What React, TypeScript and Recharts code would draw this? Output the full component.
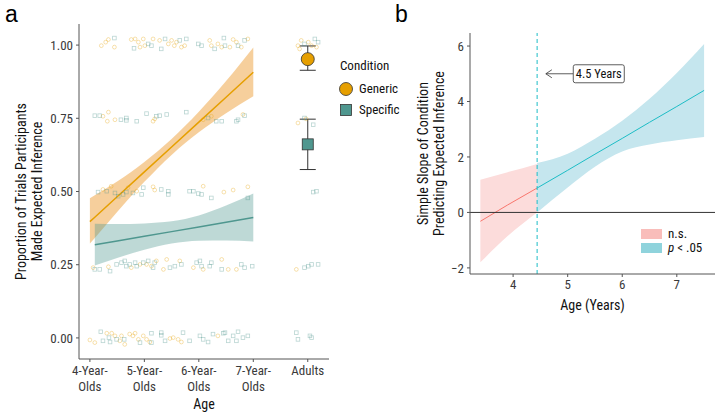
import React from "react";
import {
  ComposedChart,
  Area,
  Line,
  Scatter,
  XAxis,
  YAxis,
  ErrorBar,
  Legend,
  ReferenceLine,
  ReferenceDot,
  Label,
} from "recharts";

const FONT =
  "'Liberation Sans Narrow', 'Roboto Condensed', 'DejaVu Sans Condensed', Roboto, sans-serif";
const ORANGE = "#E69F00";
const TEAL = "#4F978F";
const NS_RED = "#F8766D";
const SIG_CYAN = "#1DBDC6";
const TICK_COLOR = "#3a3a3a";

// ---------- panel a ----------
const ageTicks = [1, 2, 3, 4, 5];
const ageLabels = ["4-Year-\nOlds", "5-Year-\nOlds", "6-Year-\nOlds", "7-Year-\nOlds", "Adults"];
const proportionTicks = [0, 0.25, 0.5, 0.75, 1];

// fitted lines + ribbons (x in age-category units)
const fitX = [1, 1.09, 1.5, 2, 2.5, 3, 3.5, 4];
const genericFit = [0.397, 0.412, 0.482, 0.567, 0.652, 0.737, 0.822, 0.907];
const genericLow = [0.322, 0.341, 0.43, 0.533, 0.625, 0.702, 0.767, 0.825];
const genericHigh = [0.477, 0.487, 0.534, 0.601, 0.679, 0.772, 0.877, 0.992];
const specificFit = [null, 0.318, 0.331, 0.347, 0.363, 0.379, 0.395, 0.411];
const specificLow = [null, 0.247, 0.273, 0.301, 0.322, 0.332, 0.333, 0.329];
const specificHigh = [null, 0.39, 0.389, 0.391, 0.398, 0.418, 0.452, 0.493];

// jittered raw responses [x, proportion]
const genericPoints: [number, number][] = [
  [1.21, 0.998], [1.29, 1.01], [1.34, 1.019], [1.45, 0.993], [1.76, 1.019], [1.83, 1.021],
  [1.89, 1.01], [1.92, 0.993], [1.98, 1.021], [2.01, 0.998], [2.16, 1.021], [2.28, 1.016],
  [2.44, 1.004], [2.5, 1.016], [2.55, 0.998], [2.59, 1.01], [2.68, 0.993], [2.74, 0.998],
  [3.2, 1.016], [3.23, 0.998], [3.35, 1.004], [3.42, 0.993], [3.57, 0.993], [3.63, 1.019],
  [3.69, 1.01], [3.78, 0.993], [3.9, 1.021], [4.82, 0.998], [4.88, 1.016], [5.01, 1.01],
  [5.07, 0.998], [5.16, 0.993], [4.85, 0.987],
  [1.24, 0.757], [1.34, 0.771], [1.32, 0.74], [1.46, 0.745], [2.16, 0.74], [2.19, 0.748],
  [3.08, 0.745], [3.23, 0.757], [3.81, 0.763], [4.82, 0.734], [4.97, 0.748],
  [1.24, 0.507], [1.39, 0.518], [1.7, 0.513], [1.86, 0.501], [2.16, 0.516], [2.19, 0.505],
  [3.08, 0.518], [3.46, 0.498], [3.63, 0.505], [3.9, 0.516],
  [1.06, 0.24], [1.34, 0.243], [1.76, 0.24], [1.92, 0.251], [2.04, 0.251], [2.13, 0.245],
  [2.22, 0.263], [2.35, 0.234], [2.41, 0.268], [2.65, 0.263], [2.9, 0.24], [3.08, 0.234],
  [3.42, 0.268], [3.54, 0.234], [3.69, 0.234], [4.79, 0.234],
  [1.0, -0.007], [1.09, -0.016], [1.31, 0.016], [1.4, 0.016], [1.46, 0.007], [1.55, -0.01],
  [1.58, 0.007], [1.64, -0.022], [1.73, 0.013], [1.79, 0.007], [1.83, 0.016], [1.89, -0.005],
  [1.98, 0.007], [2.04, -0.005], [2.1, -0.014], [2.47, -0.002], [2.53, 0.001], [2.62, -0.005],
  [2.68, -0.014], [3.35, 0.007],
];
const specificPoints: [number, number][] = [
  [1.45, 1.024], [1.81, 0.989], [2.07, 1.004], [2.13, 0.998], [2.31, 0.987], [2.38, 1.021],
  [2.65, 1.016], [2.77, 1.021], [2.99, 1.004], [3.05, 0.998], [3.29, 0.987], [3.46, 1.024],
  [3.48, 0.998], [3.72, 0.998], [3.84, 1.016], [4.94, 1.004], [5.13, 1.021], [5.19, 1.01],
  [1.09, 0.759], [1.18, 0.759], [1.57, 0.745], [1.67, 0.751], [1.67, 0.743], [1.86, 0.74],
  [2.04, 0.766], [2.22, 0.757], [2.28, 0.759], [2.41, 0.763], [2.77, 0.771], [3.17, 0.751],
  [3.32, 0.74], [3.42, 0.74], [3.69, 0.74], [3.72, 0.745], [3.84, 0.759], [4.94, 0.751],
  [5.1, 0.728],
  [1.15, 0.498], [1.31, 0.501], [1.46, 0.495], [1.52, 0.484], [1.61, 0.49], [1.67, 0.498],
  [1.79, 0.495], [1.95, 0.49], [1.98, 0.513], [2.31, 0.507], [2.44, 0.501], [2.44, 0.49],
  [2.83, 0.501], [2.9, 0.501], [2.99, 0.493], [3.05, 0.49], [3.23, 0.478], [3.9, 0.478],
  [5.1, 0.498], [5.16, 0.501],
  [1.09, 0.234], [1.18, 0.234], [1.37, 0.228], [1.49, 0.251], [1.58, 0.257], [1.64, 0.263],
  [1.67, 0.245], [1.73, 0.251], [1.83, 0.257], [1.86, 0.245], [1.98, 0.257], [2.07, 0.263],
  [2.16, 0.24], [2.19, 0.257], [2.47, 0.24], [2.56, 0.245], [2.68, 0.251], [2.96, 0.257],
  [3.02, 0.263], [3.05, 0.245], [3.2, 0.245], [3.23, 0.257], [3.42, 0.234], [3.78, 0.251],
  [3.84, 0.24], [3.98, 0.245], [4.94, 0.24], [5.01, 0.245], [5.07, 0.251], [5.19, 0.251],
  [1.2, 0.021], [1.24, -0.01], [1.35, 0.001], [1.37, -0.014], [1.49, -0.005], [1.63, -0.005],
  [1.92, -0.016], [2.13, 0.016], [2.13, -0.016], [2.31, 0.018], [2.31, 0.009], [2.38, -0.01],
  [2.71, 0.018], [2.83, -0.01], [3.02, 0.007], [3.08, -0.005], [3.17, -0.014], [3.26, 0.013],
  [3.45, 0.016], [3.48, 0.018], [3.54, -0.01], [3.63, 0.007], [3.69, -0.01], [3.72, 0.021],
  [3.81, 0.001], [3.9, 0.007], [4.79, 0.018], [4.82, -0.005], [5.04, 0.007], [5.07, 0.001],
];

// adult means with error bars
const adultX = 5;
const adultMean = [0.952, 0.661];
const adultLower = [0.914, 0.575];
const adultUpper = [0.997, 0.747];

// ---------- panel b ----------
const slopeTicksX = [4, 5, 6, 7];
const slopeTicksY = [-2, 0, 2, 4, 6];
const slopeX = [3.4, 3.9, 4.44, 5, 5.5, 6, 6.5, 7, 7.5];
const nsFit = [-0.32, 0.27, 0.88, null, null, null, null, null, null];
const nsLow = [-1.8, -0.85, 0.0, null, null, null, null, null, null];
const nsHigh = [1.18, 1.45, 1.75, null, null, null, null, null, null];
const sigFit = [null, null, 0.88, 1.52, 2.1, 2.67, 3.25, 3.82, 4.4];
const sigLow = [null, null, 0.0, 0.9, 1.65, 2.2, 2.45, 2.6, 2.72];
const sigHigh = [null, null, 1.78, 2.12, 2.66, 3.31, 4.1, 5.03, 6.07];
const jnPoint = 4.44;

const fitRows = fitX.map((x, i) => ({
  x,
  generic: genericFit[i],
  genericBand: [genericLow[i], genericHigh[i]],
  specific: specificFit[i],
  specificBand: specificFit[i] == null ? null : [specificLow[i], specificHigh[i]],
}));
const genericJitter = genericPoints.map(([x, y]) => ({ x, y }));
const specificJitter = specificPoints.map(([x, y]) => ({ x, y }));
const genericAdult = [
  { x: adultX, y: adultMean[0], err: [adultMean[0] - adultLower[0], adultUpper[0] - adultMean[0]] },
];
const specificAdult = [
  { x: adultX, y: adultMean[1], err: [adultMean[1] - adultLower[1], adultUpper[1] - adultMean[1]] },
];
const slopeRows = slopeX.map((x, i) => ({
  x,
  ns: nsFit[i],
  nsBand: nsFit[i] == null ? null : [nsLow[i], nsHigh[i]],
  sig: sigFit[i],
  sigBand: sigFit[i] == null ? null : [sigLow[i], sigHigh[i]],
}));

const AgeTick = ({ x, y, payload }: any) => {
  const idx = ageTicks.indexOf(payload.value);
  const lines = (ageLabels[idx] || "").split("\n");
  return (
    <g>
      {lines.map((l, i) => (
        <text key={i} x={x} y={y + 11 + i * 16} textAnchor="middle" fill={TICK_COLOR} fontSize={13} fontFamily={FONT}>
          {l}
        </text>
      ))}
    </g>
  );
};

const twoLineYTitle = (lines: string[], dx: number[]) => (props: any) => {
  const vb = props.viewBox || {};
  const cy = vb.y + vb.height / 2;
  return (
    <g>
      {lines.map((l, i) => {
        const cx = vb.x + dx[i];
        return (
          <text key={i} x={cx} y={cy} transform={`rotate(-90 ${cx} ${cy})`} textAnchor="middle" dominantBaseline="central" fill="#111" fontSize={14} fontFamily={FONT}>
            {l}
          </text>
        );
      })}
    </g>
  );
};

const JitterCircle = (p: any) => (
  <circle cx={p.cx} cy={p.cy} r={1.9} fill="none" stroke={ORANGE} strokeOpacity={0.4} strokeWidth={0.8} />
);
const JitterSquare = (p: any) => (
  <rect x={p.cx - 1.8} y={p.cy - 1.8} width={3.6} height={3.6} fill="none" stroke={TEAL} strokeOpacity={0.4} strokeWidth={0.8} />
);
const MeanCircle = (p: any) => (
  <circle cx={p.cx} cy={p.cy} r={6.5} fill={ORANGE} stroke="#333" strokeWidth={0.8} />
);
const MeanSquare = (p: any) => (
  <rect x={p.cx - 5.5} y={p.cy - 5.5} width={11} height={11} fill={TEAL} stroke="#333" strokeWidth={0.8} />
);

const ConditionLegend = () => (
  <div style={{ fontFamily: FONT, fontSize: 13, color: "#111", lineHeight: "14px" }}>
    <div style={{ marginBottom: 5, marginLeft: 2 }}>Condition</div>
    <div style={{ display: "flex", alignItems: "center", height: 21 }}>
      <svg width={16} height={16}>
        <circle cx={8} cy={8} r={6.5} fill={ORANGE} stroke="#333" strokeWidth={0.8} />
      </svg>
      <span style={{ marginLeft: 5 }}>Generic</span>
    </div>
    <div style={{ display: "flex", alignItems: "center", height: 21 }}>
      <svg width={16} height={16}>
        <rect x={2.5} y={2.5} width={11} height={11} fill={TEAL} stroke="#333" strokeWidth={0.8} />
      </svg>
      <span style={{ marginLeft: 5 }}>Specific</span>
    </div>
  </div>
);

const SignificanceLegend = () => (
  <div style={{ fontFamily: FONT, fontSize: 13, color: "#111", lineHeight: "14px" }}>
    <div style={{ display: "flex", alignItems: "center", height: 14 }}>
      <span style={{ width: 21, height: 10, background: "#F9BDBA", display: "inline-block" }} />
      <span style={{ marginLeft: 6 }}>n.s.</span>
    </div>
    <div style={{ display: "flex", alignItems: "center", height: 14 }}>
      <span style={{ width: 21, height: 10, background: "#8FD3DC", display: "inline-block" }} />
      <span style={{ marginLeft: 6 }}>
        <i>p</i> &lt; .05
      </span>
    </div>
  </div>
);

const AnnotationBox = (p: any) => (
  <g>
    <rect x={p.cx - 25.5} y={p.cy - 9} width={51} height={18} rx={2} fill="#fff" stroke="#333" strokeWidth={0.8} />
    <text x={p.cx} y={p.cy} textAnchor="middle" dominantBaseline="central" fontSize={12.5} fontFamily={FONT} fill="#111">
      4.5 Years
    </text>
  </g>
);

const AnnotationArrow = (p: any) => (
  <g>
    <line x1={p.x1} y1={p.y1} x2={p.x2} y2={p.y2} stroke="#333" strokeWidth={0.8} />
    <polyline points={`${p.x2 + 6},${p.y2 - 4} ${p.x2},${p.y2} ${p.x2 + 6},${p.y2 + 4}`} fill="none" stroke="#333" strokeWidth={0.8} />
  </g>
);

const tickStyle = { fill: TICK_COLOR, fontSize: 13, fontFamily: FONT };
const panelLetter = { position: "absolute" as const, top: 1, fontSize: 23, lineHeight: "normal", fontFamily: "'Liberation Sans', Arial, sans-serif" };

export default function App() {
  return (
    <div style={{ position: "absolute", left: 0, top: 0, width: 717, height: 413, background: "#fff", overflow: "hidden" }}>
      <div style={{ ...panelLetter, left: 5 }}>a</div>
      <div style={{ ...panelLetter, left: 395 }}>b</div>

      <div style={{ position: "absolute", left: 0, top: 0 }}>
        <ComposedChart width={400} height={413} data={fitRows} margin={{ top: 24, right: 71, bottom: 4, left: 19 }}>
          <XAxis
            type="number"
            dataKey="x"
            domain={[0.8, 5.39]}
            ticks={ageTicks}
            allowDataOverflow
            height={50}
            tickSize={3}
            tick={<AgeTick />}
            stroke="#555"
          >
            <Label value="Age" position="insideBottom" offset={0} style={{ fill: "#111", fontSize: 14, fontFamily: FONT }} />
          </XAxis>
          <YAxis
            type="number"
            domain={[-0.072, 1.072]}
            ticks={proportionTicks}
            allowDataOverflow
            width={60}
            tickSize={3}
            tickMargin={3}
            tickFormatter={(v: number) => v.toFixed(2)}
            tick={tickStyle}
            stroke="#555"
            label={{ content: twoLineYTitle(["Proportion of Trials Participants", "Made Expected Inference"], [2, 18]) }}
          />
          <Scatter data={genericJitter} dataKey="y" shape={JitterCircle} isAnimationActive={false} />
          <Scatter data={specificJitter} dataKey="y" shape={JitterSquare} isAnimationActive={false} />
          <Area dataKey="genericBand" type="monotone" fill="#EE9F3A" fillOpacity={0.5} stroke="none" isAnimationActive={false} />
          <Area dataKey="specificBand" type="monotone" fill={TEAL} fillOpacity={0.37} stroke="none" isAnimationActive={false} />
          <Line dataKey="generic" type="linear" stroke={ORANGE} strokeWidth={1.5} dot={false} isAnimationActive={false} />
          <Line dataKey="specific" type="linear" stroke={TEAL} strokeWidth={1.5} dot={false} isAnimationActive={false} />
          <Scatter data={genericAdult} dataKey="y" shape={MeanCircle} isAnimationActive={false}>
            <ErrorBar dataKey="err" direction="y" width={8} stroke="#333" strokeWidth={1} />
          </Scatter>
          <Scatter data={specificAdult} dataKey="y" shape={MeanSquare} isAnimationActive={false}>
            <ErrorBar dataKey="err" direction="y" width={8} stroke="#333" strokeWidth={1} />
          </Scatter>
          <Legend
            layout="horizontal"
            verticalAlign="middle"
            align="center"
            content={() => <ConditionLegend />}
            wrapperStyle={{ position: "absolute", left: 338, top: 59, width: 70 }}
          />
        </ComposedChart>
      </div>

      <div style={{ position: "absolute", left: 390, top: 0 }}>
        <ComposedChart width={327} height={413} data={slopeRows} margin={{ top: 33, right: 2, bottom: 109, left: 20 }}>
          <XAxis
            type="number"
            dataKey="x"
            domain={[3.21, 7.7]}
            ticks={slopeTicksX}
            allowDataOverflow
            height={30}
            tickSize={3}
            tickMargin={3}
            tick={tickStyle}
            stroke="#555"
          >
            <Label value="Age (Years)" position="insideBottom" offset={-6} style={{ fill: "#111", fontSize: 14, fontFamily: FONT }} />
          </XAxis>
          <XAxis xAxisId="top" orientation="top" type="number" domain={[3.21, 7.7]} height={0} tick={false} tickLine={false} stroke="#bbb" />
          <YAxis
            type="number"
            domain={[-2.22, 6.47]}
            ticks={slopeTicksY}
            allowDataOverflow
            width={60}
            tickSize={3}
            tickMargin={3}
            tick={tickStyle}
            tickFormatter={(v: number) => (v < 0 ? `\u2212${Math.abs(v)}` : `${v}`)}
            stroke="#555"
            label={{ content: twoLineYTitle(["Simple Slope of Condition", "Predicting Expected Inference"], [13, 29]) }}
          />
          <YAxis yAxisId="right" orientation="right" type="number" domain={[-2.22, 6.47]} width={0} tick={false} tickLine={false} stroke="#bbb" />
          <Area dataKey="nsBand" type="monotone" fill="#FCDCDB" fillOpacity={1} stroke="none" isAnimationActive={false} />
          <Area dataKey="sigBand" type="monotone" fill="#C5E6EE" fillOpacity={1} stroke="none" isAnimationActive={false} />
          <Line dataKey="ns" type="linear" stroke={NS_RED} strokeWidth={1} dot={false} isAnimationActive={false} />
          <Line dataKey="sig" type="linear" stroke={SIG_CYAN} strokeWidth={1} dot={false} isAnimationActive={false} />
          <ReferenceLine y={0} stroke="#333" strokeWidth={1} />
          <ReferenceLine x={jnPoint} stroke={SIG_CYAN} strokeDasharray="4 3" strokeWidth={1} />
          <ReferenceLine segment={[{ x: 5.1, y: 5 }, { x: 4.6, y: 5 }]} shape={AnnotationArrow} />
          <ReferenceDot x={5.57} y={5} r={0} shape={AnnotationBox} />
          <Legend
            layout="horizontal"
            verticalAlign="middle"
            align="center"
            content={() => <SignificanceLegend />}
            wrapperStyle={{ position: "absolute", left: 251, top: 227, width: 70 }}
          />
        </ComposedChart>
      </div>
    </div>
  );
}
